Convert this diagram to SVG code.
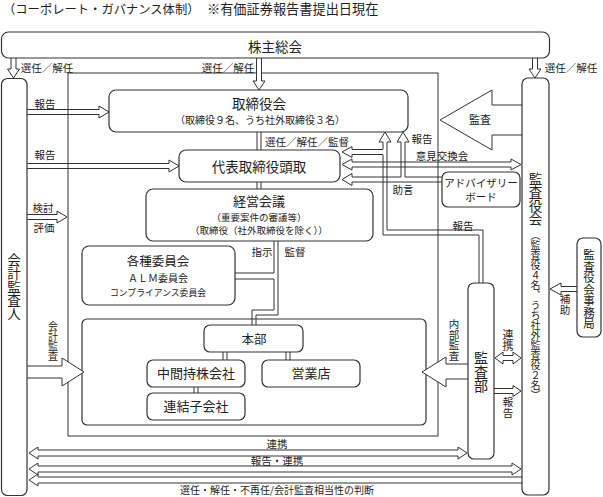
<svg xmlns="http://www.w3.org/2000/svg" width="603" height="497" viewBox="0 0 603 497">
<style>
.bx{fill:#fff;stroke:#333;stroke-width:1.2}
.ln{fill:none;stroke:#333;stroke-width:1}
.aw{fill:#fff;stroke:#333;stroke-width:1}
.an{fill:none;stroke:#333;stroke-width:1}
text{font-family:"Noto Sans CJK JP","Noto Sans",sans-serif;fill:#222;text-anchor:middle}
.v{writing-mode:vertical-rl;text-anchor:start}
.s{font-size:10.5px}
.m{font-size:13.5px}
.p{font-size:10px}
</style>
<text x="3" y="14" style="text-anchor:start;font-size:12.3px">（コーポレート・ガバナンス体制）</text>
<text x="207" y="14" style="text-anchor:start;font-size:13.2px">※有価証券報告書提出日現在</text>
<rect id="outer" x="68" y="73" width="370" height="363" class="ln"/>
<rect id="container" x="82" y="319" width="344" height="106" rx="5" class="bx"/>
<g id="connectors">
<path class="ln" d="M257,132V150M261,132V150M257,182V189M261,182V189"/>
<path class="ln" d="M223,352V360M227,352V360M286,352V360M290,352V360M194,387V393M198,387V393"/>
<path class="ln" d="M274,241V273H235M235,279H274V310H252V325M278,241V315H256V325"/>
<path class="aw" d="M11,58V69H7.5L13.5,78L19.5,69H16V58"/>
<path class="aw" d="M256.5,58V81H253L259,90L265,81H261.5V58"/>
<path class="aw" d="M532.5,58V69H529L535,78L541,69H537.5V58"/>
<path class="an" d="M27,109.5H99V106L109,112L99,118V114.5H27"/>
<path class="an" d="M27,163.5H169V160L179,166L169,172V168.5H27"/>
<path class="an" d="M27,214.5H57V211L67,217L57,223V219.5H27"/>
<path class="an" d="M479,283V235H383V154.5H352V157.5L342,152L352,146.5V149.5H383V142H379L385,132L391,142H387V230H483V283"/>
<path class="an" d="M442,177H405V142H409L403,132L397,142H401V177H352V173.5L342,179.5L352,185.5V182H442"/>
<path class="an" d="M342,164.5L352,159V162H511V159L521,164.5L511,170V167H352V170Z"/>
<path class="aw" d="M522,105H492V90L440,120L492,150V135H522"/>
<path class="aw" d="M27,366H62V358L84,372L62,386V378H27"/>
<path class="aw" d="M468,364H446V357L422,372L446,387V379H468"/>
<path class="aw" d="M577,286.5H561V283L550,289L561,295V291.5H577"/>
<path class="aw" d="M495,358L503,352V355.5H513V352L521,358L513,364V360.5H503V364Z"/>
<path class="aw" d="M494,388.5H513V385.5L521,391L513,396.5V393.5H494"/>
<path class="an" d="M29,453L38,447V450H458V447L467,453L458,459V456H38V459Z"/>
<path class="an" d="M29,469L38,463V466H512V463L521,469L512,475V472H38V475Z"/>
<path class="an" d="M522,477H38V474L29,480L38,486V483H522"/>
</g>
<g id="labels">
<text x="47" y="72" class="s">選任／解任</text>
<text x="228" y="72" class="s">選任／解任</text>
<text x="571" y="72" class="s">選任／解任</text>
<text x="45" y="108" class="s">報告</text>
<text x="45" y="159" class="s">報告</text>
<text x="43" y="212" class="s">検討</text>
<text x="44" y="232" class="s">評価</text>
<text x="307" y="146" class="s">選任／解任／監督</text>
<text x="422" y="143" class="s">報告</text>
<text x="442" y="160" class="s">意見交換会</text>
<text x="403" y="194" class="s">助言</text>
<text x="463" y="230" class="s">報告</text>
<text x="262" y="256" class="s">指示</text>
<text x="295" y="256" class="s">監督</text>
<text x="480" y="124" style="font-size:11px">監査</text>
<text x="53" y="321" class="v" style="font-size:10px">会計監査</text>
<text x="454" y="319" class="v" style="font-size:10.5px">内部監査</text>
<text x="508" y="329" class="v" style="font-size:11px">連携</text>
<text x="508" y="397" class="v" style="font-size:10.5px">報告</text>
<text x="565" y="294" class="v" style="font-size:10.5px">補助</text>
<text x="277" y="448" class="s">連携</text>
<text x="277" y="465" class="s">報告・連携</text>
<text x="277" y="494" class="p">選任・解任・不再任/会計監査相当性の判断</text>
</g>
<g id="n-kabunushi">
<rect x="1.5" y="32" width="548" height="26" rx="7" class="bx"/>
<text x="275" y="52" class="m">株主総会</text>
</g>
<g id="n-kaikei">
<rect x="1.5" y="78.5" width="25.5" height="417" rx="6" class="bx"/>
<text x="14" y="253" class="v m">会計監査人</text>
</g>
<g id="n-kansayakukai">
<rect x="522" y="78" width="27" height="417" rx="6" class="bx"/>
<text x="535.5" y="172" class="v m">監査役会</text>
<text x="535.5" y="230" class="v p">（監査役４名、うち社外監査役２名）</text>
</g>
<g id="n-torishimariyakukai">
<rect x="109" y="90" width="299" height="42" rx="7" class="bx"/>
<text x="259" y="108.5" class="m">取締役会</text>
<text x="260" y="124" class="p">（取締役９名、うち社外取締役３名）</text>
</g>
<g id="n-daihyo">
<rect x="179" y="150" width="161" height="32" rx="7" class="bx"/>
<text x="259" y="172" class="m">代表取締役頭取</text>
</g>
<g id="n-keiei">
<rect x="146" y="189" width="227" height="52" rx="7" class="bx"/>
<text x="259" y="205.5" style="font-size:13px">経営会議</text>
<text x="259" y="220.6" style="font-size:9.5px">（重要案件の審議等）</text>
<text x="259" y="234.4" style="font-size:9.5px">（取締役（社外取締役を除く））</text>
</g>
<g id="n-iinkai">
<rect x="82" y="246" width="153" height="59" rx="7" class="bx"/>
<text x="158" y="266" style="font-size:12.5px">各種委員会</text>
<text x="158" y="281.5" class="p">ＡＬＭ委員会</text>
<text x="158" y="295.5" style="font-size:8.8px">コンプライアンス委員会</text>
</g>
<g id="n-honbu">
<rect x="204" y="325" width="99" height="27" rx="6" class="bx"/>
<text x="254" y="344" style="font-size:12.5px">本部</text>
</g>
<g id="n-chukan">
<rect x="147" y="360" width="98" height="27" rx="6" class="bx"/>
<text x="196" y="378" style="font-size:13px">中間持株会社</text>
</g>
<g id="n-eigyo">
<rect x="262" y="360" width="98" height="27" rx="6" class="bx"/>
<text x="311" y="378" style="font-size:13px">営業店</text>
</g>
<g id="n-renketsu">
<rect x="147" y="393" width="98" height="27" rx="6" class="bx"/>
<text x="196" y="411" style="font-size:13px">連結子会社</text>
</g>
<g id="n-advisory">
<rect x="442" y="172" width="78" height="35" rx="6" class="bx"/>
<text x="481" y="187" class="s">アドバイザリー</text>
<text x="481" y="201" class="s">ボード</text>
</g>
<g id="n-kansabu">
<rect x="468" y="283" width="26" height="176" rx="6" class="bx"/>
<text x="481" y="351" class="v" style="font-size:14px">監査部</text>
</g>
<g id="n-jimukyoku">
<rect x="577" y="238" width="24" height="99" rx="6" class="bx"/>
<text x="589" y="249" class="v" style="font-size:11.5px">監査役会事務局</text>
</g>
</svg>
